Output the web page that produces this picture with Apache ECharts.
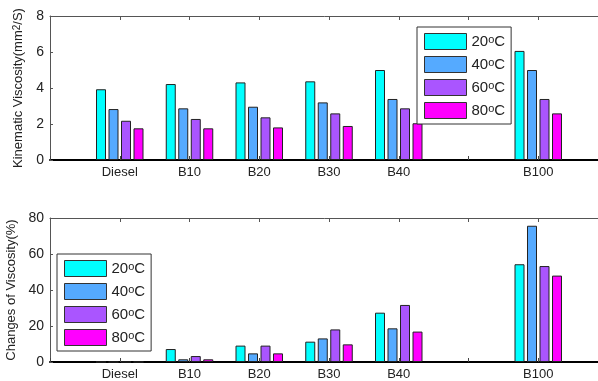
<!DOCTYPE html>
<html lang="en" style="height: 100%">
<head>
<meta charset="utf-8">
<title>Viscosity of biodiesel blends</title>
</head>
<body style="height: 100%; margin: 0; background: #fff">
<div id="container" style="width: 598px; height: 381px"></div>

<script type="text/javascript" src="https://cdn.jsdelivr.net/npm/echarts@6/dist/echarts.min.js"></script>

<script type="text/javascript">
// slots along the x axis: empty slots are blank positions (left edge, gap, right edge)
var tickLabels = ['', 'Diesel', 'B10', 'B20', 'B30', 'B40', '', 'B100', ''];
var temps = ['20°C', '40°C', '60°C', '80°C'];
var colors = ['#00FFFF', '#55AAFF', '#AA55FF', '#FF00FF'];

// kinematic viscosity (mm2/s), Diesel..B100
var visc20 = [3.93, 4.22, 4.31, 4.37, 5.00, 6.06];
var visc40 = [2.83, 2.87, 2.96, 3.20, 3.39, 5.00];
var visc60 = [2.18, 2.28, 2.37, 2.59, 2.87, 3.39];
var visc80 = [1.76, 1.76, 1.81, 1.89, 2.04, 2.59];

// change of viscosity (%), Diesel..B100
var chg20 = [0, 7.2, 9.1, 11.3, 27.4, 54.3];
var chg40 = [0, 1.5, 4.8, 13.1, 18.7, 75.7];
var chg60 = [0, 3.3, 9.1, 18.1, 31.7, 53.3];
var chg80 = [0, 1.5, 4.8, 9.8, 16.9, 48.0];

var dom = document.getElementById('container');
var myChart = echarts.init(dom, null, { renderer: 'canvas' });

var font = 'Liberation Sans';

// put the 6 group values into the non-empty tick slots
function toSlots(values) {
    var out = [];
    var k = 0;
    tickLabels.forEach(function (lab) {
        if (lab === '') {
            out.push('-');
        } else {
            out.push(values[k++]);
        }
    });
    return out;
}

function bottomAxis(gridIndex) {
    return {
        type: 'category', gridIndex: gridIndex, data: tickLabels, boundaryGap: false,
        position: 'bottom',
        axisLine: { lineStyle: { color: '#000', width: 2 } },
        axisTick: { inside: true, length: 4, interval: 0, lineStyle: { color: '#444' } },
        axisLabel: { interval: 0, margin: 6, fontSize: 13, color: '#222', fontFamily: font },
        splitLine: { show: false }
    };
}

function topAxis(gridIndex) {
    return {
        type: 'category', gridIndex: gridIndex, data: tickLabels, boundaryGap: false,
        position: 'top',
        axisLine: { lineStyle: { color: '#555', width: 1 } },
        axisTick: { inside: true, length: 4, interval: 0, lineStyle: { color: '#555' } },
        axisLabel: { show: false },
        splitLine: { show: false }
    };
}

function leftAxis(gridIndex, max, interval, name) {
    return {
        type: 'value', gridIndex: gridIndex, min: 0, max: max, interval: interval,
        name: name, nameLocation: 'middle', nameGap: 22, nameRotate: 90,
        nameTextStyle: {
            fontSize: 13, color: '#222', fontFamily: font,
            rich: { s: { fontSize: 10, verticalAlign: 'top', color: '#222', fontFamily: font } }
        },
        axisLine: { show: true, lineStyle: { color: '#555', width: 1 } },
        axisTick: { show: true, inside: true, length: 3, lineStyle: { color: '#555' } },
        axisLabel: { margin: 6, fontSize: 14, color: '#222', fontFamily: font },
        splitLine: { show: false }
    };
}

function legendBox(left, top) {
    return {
        data: temps, orient: 'vertical', left: left, top: top,
        itemWidth: 42, itemHeight: 16, itemGap: 6,
        padding: [6, 6, 5, 7],
        borderColor: '#333', borderWidth: 1, backgroundColor: '#fff',
        icon: 'rect',
        itemStyle: { borderColor: '#333', borderWidth: 1 },
        textStyle: {
            fontSize: 15, color: '#222', fontFamily: font,
            rich: { s: { fontSize: 11, verticalAlign: 'top', color: '#222', fontFamily: font } }
        },
        formatter: function (name) { return name.replace('°', '{s|o}'); }
    };
}

var topSets = [visc20, visc40, visc60, visc80];
var botSets = [chg20, chg40, chg60, chg80];
var series = [];
temps.forEach(function (t, i) {
    series.push({
        name: t, type: 'bar', xAxisIndex: 0, yAxisIndex: 0,
        data: toSlots(topSets[i]), barWidth: 10, barGap: '25%',
        itemStyle: { color: colors[i], borderColor: '#222', borderWidth: 1 }
    });
});
temps.forEach(function (t, i) {
    series.push({
        name: t, type: 'bar', xAxisIndex: 2, yAxisIndex: 1,
        data: toSlots(botSets[i]), barWidth: 10, barGap: '25%',
        itemStyle: { color: colors[i], borderColor: '#222', borderWidth: 1 }
    });
});

var option = {
    animation: false,
    backgroundColor: '#fff',
    grid: [
        { left: 50, width: 558, top: 16, height: 144, outerBoundsMode: 'none' },
        { left: 50, width: 558, top: 218, height: 144, outerBoundsMode: 'none' }
    ],
    xAxis: [bottomAxis(0), topAxis(0), bottomAxis(1), topAxis(1)],
    yAxis: [
        leftAxis(0, 8, 2, 'Kinematic Viscosity(mm{s|2}/S)'),
        leftAxis(1, 80, 20, 'Changes of Viscosity(%)')
    ],
    legend: [legendBox(417, 27), legendBox(57, 254)],
    series: series
};

myChart.setOption(option);
window.addEventListener('resize', myChart.resize);
</script>
</body>
</html>
